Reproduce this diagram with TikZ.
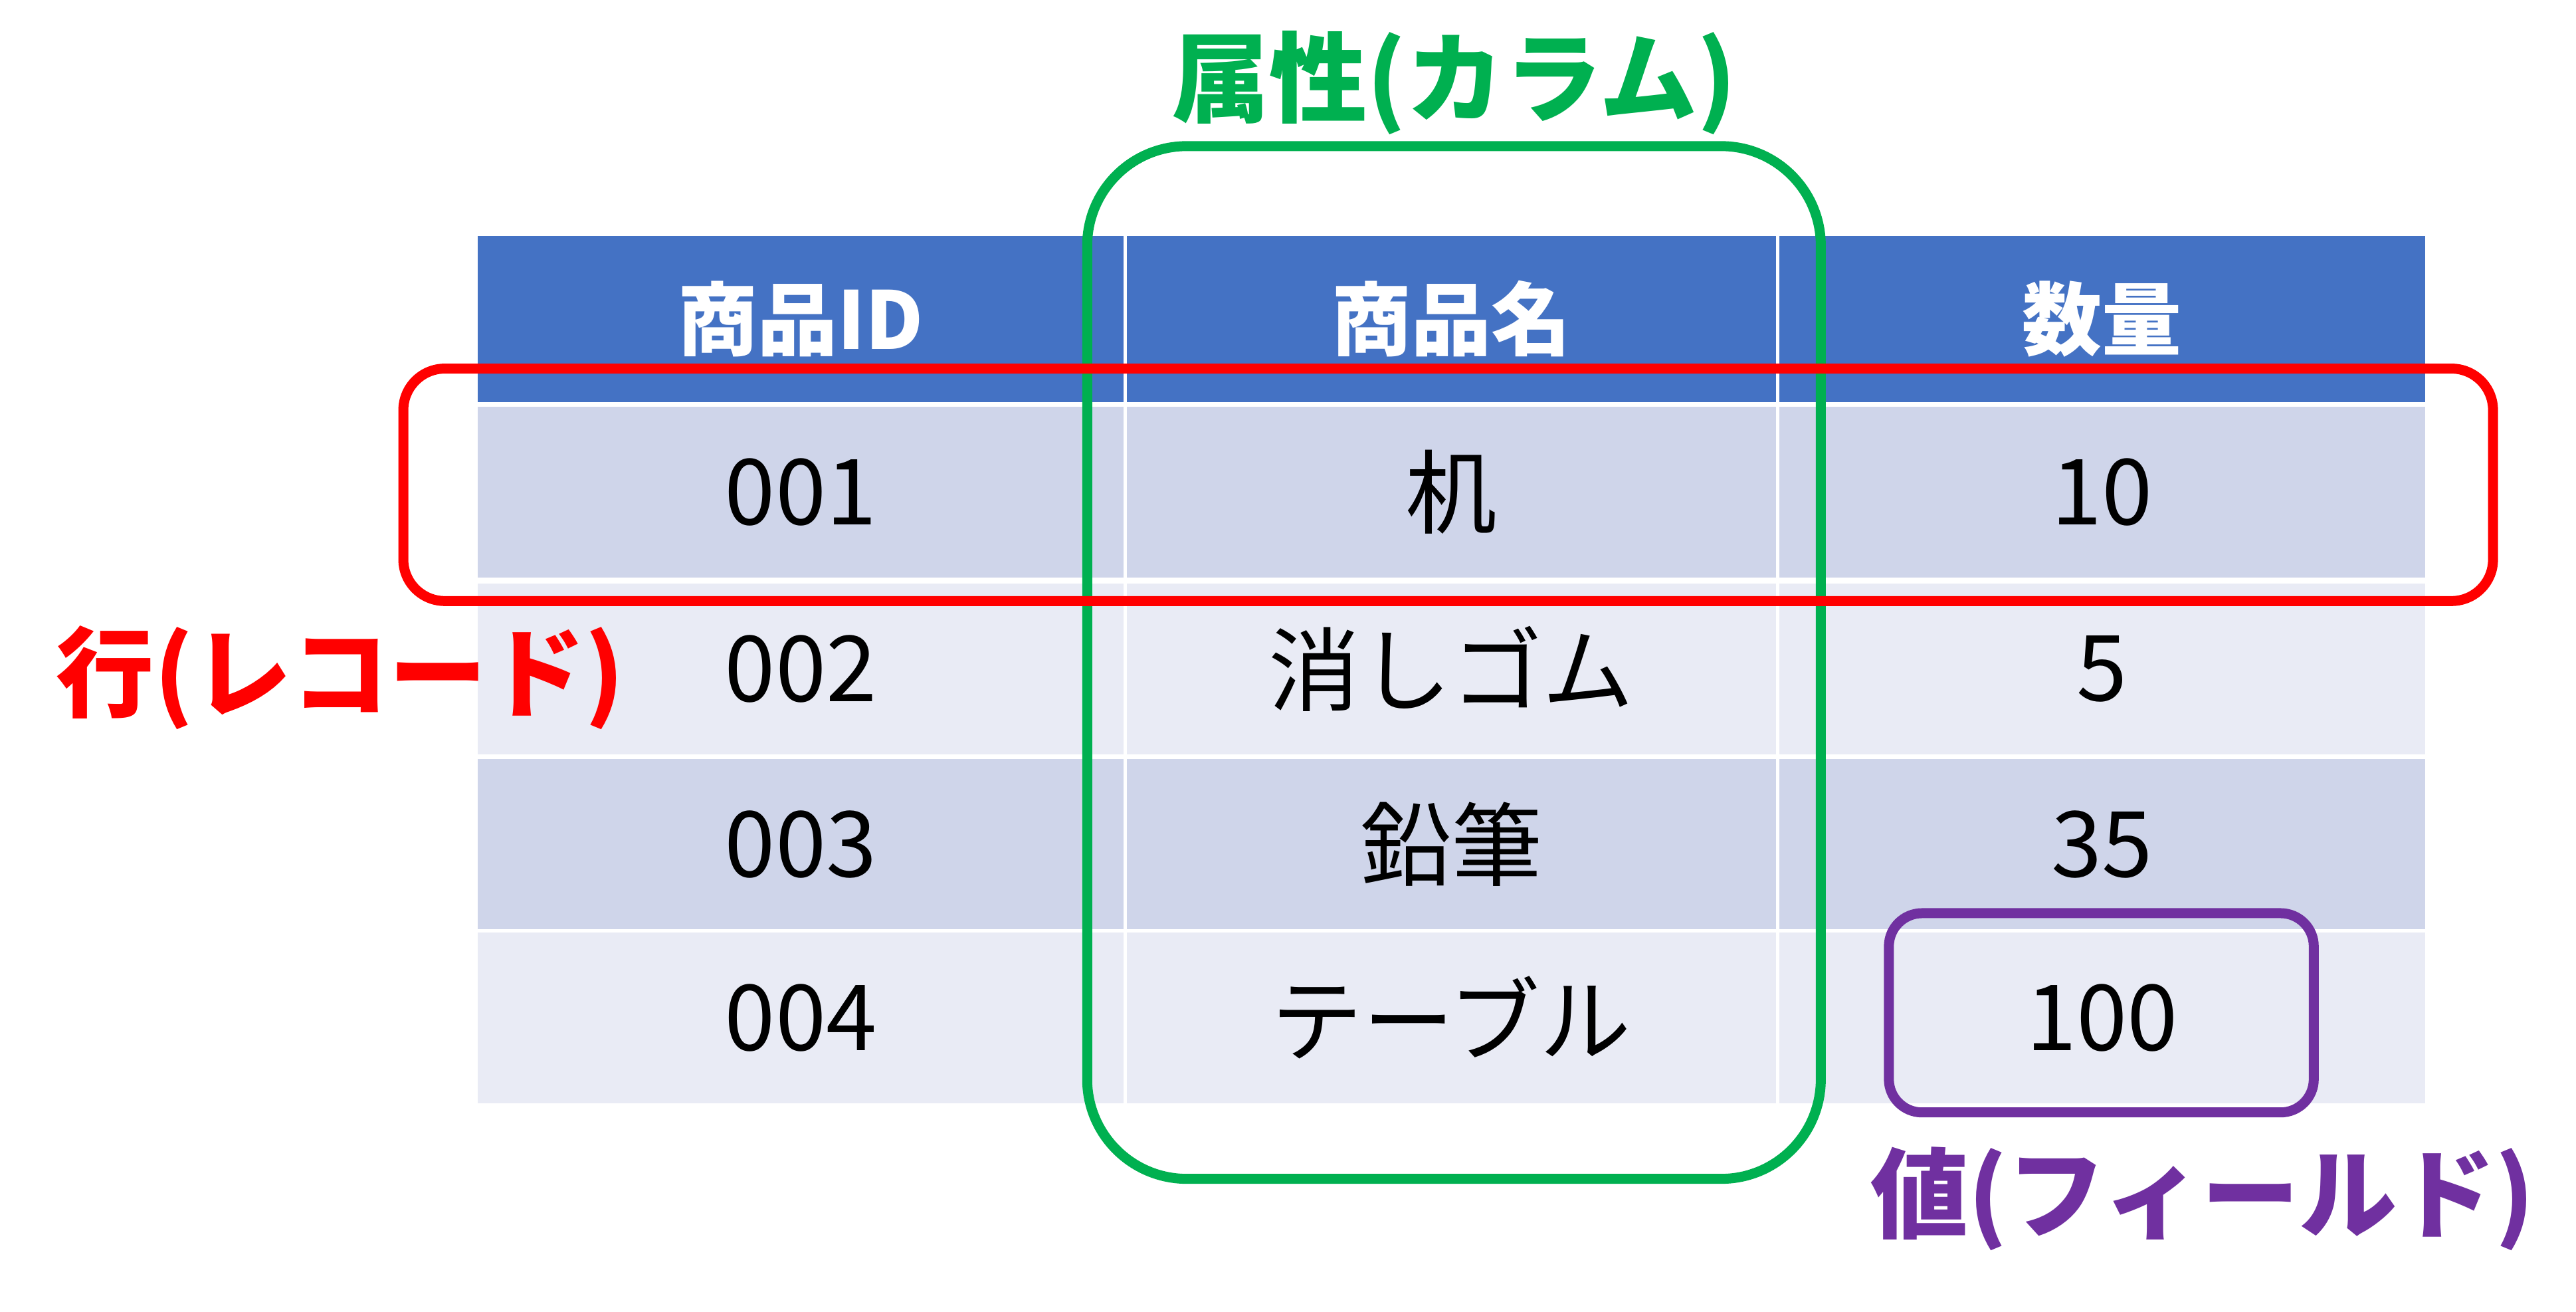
\documentclass[tikz,border=0pt]{standalone}
\usepackage{fontspec}
\setmainfont{Noto Sans CJK JP}
\newfontfamily\lightcjk{Noto Sans CJK JP Light}
\definecolor{hdr}{HTML}{4472C4}
\definecolor{rowA}{HTML}{CFD5EA}
\definecolor{rowB}{HTML}{E9EBF5}
\definecolor{grn}{HTML}{00B050}
\definecolor{pur}{HTML}{7030A0}
\tikzset{
 cell/.style={draw=white,line width=2pt,minimum width=#1,minimum height=105pt,inner sep=0pt,font=\fontsize{55}{60}\selectfont},
 hcell/.style={cell=#1,fill=hdr,text=white,font=\fontsize{48}{52}\selectfont\bfseries},
 lab/.style={font=\fontsize{59}{64}\selectfont\bfseries},
 frame/.style={line width=6pt}
}
\begin{document}
\begin{tikzpicture}[x=1pt,y=-1pt]
\useasboundingbox[fill=white] (0,0) rectangle (1552,790);
% header
\node[hcell=391pt,minimum height=102pt] (h1) at (482.5,192) {商品ID};
\node[hcell=393pt,minimum height=102pt] (h2) at (874.5,192) {商品名};
\node[hcell=391pt,minimum height=102pt] (h3) at (1266.5,192) {数量};
% rows
\node[cell=391pt,fill=rowA] (a1) at (482.5,296.5) {001};
\node[cell=393pt,fill=rowA] (a2) at (874.5,296.5) {机};
\node[cell=391pt,fill=rowA] (a3) at (1266.5,296.5) {10};
\node[cell=391pt,fill=rowB] (b1) at (482.5,403) {002};
\node[cell=393pt,fill=rowB] (b2) at (874.5,403) {消しゴム};
\node[cell=391pt,fill=rowB] (b3) at (1266.5,403) {5};
\node[cell=391pt,fill=rowA] (c1) at (482.5,508.5) {003};
\node[cell=393pt,fill=rowA] (c2) at (874.5,508.5) {鉛筆};
\node[cell=391pt,fill=rowA] (c3) at (1266.5,508.5) {35};
\node[cell=391pt,fill=rowB] (d1) at (482.5,613) {004};
\node[cell=393pt,fill=rowB] (d2) at (874.5,613) {テーブル};
\node[cell=391pt,fill=rowB] (d3) at (1266.5,613) {100};
% frames
\draw[frame,draw=grn,rounded corners=60pt] (655,88) rectangle (1097,710);
\draw[frame,draw=red,rounded corners=25pt] (243,222) rectangle (1502,362);
\draw[frame,draw=pur,rounded corners=20pt] (1138,550) rectangle (1394,670);
% labels
\node[lab,text=grn] (lg) at (876,50) {属性(カラム)};
\node[lab,text=red] (lr) at (205,408) {行(レコード)};
\node[lab,text=pur] (lp) at (1327,722) {値(フィールド)};
\end{tikzpicture}
\end{document}
